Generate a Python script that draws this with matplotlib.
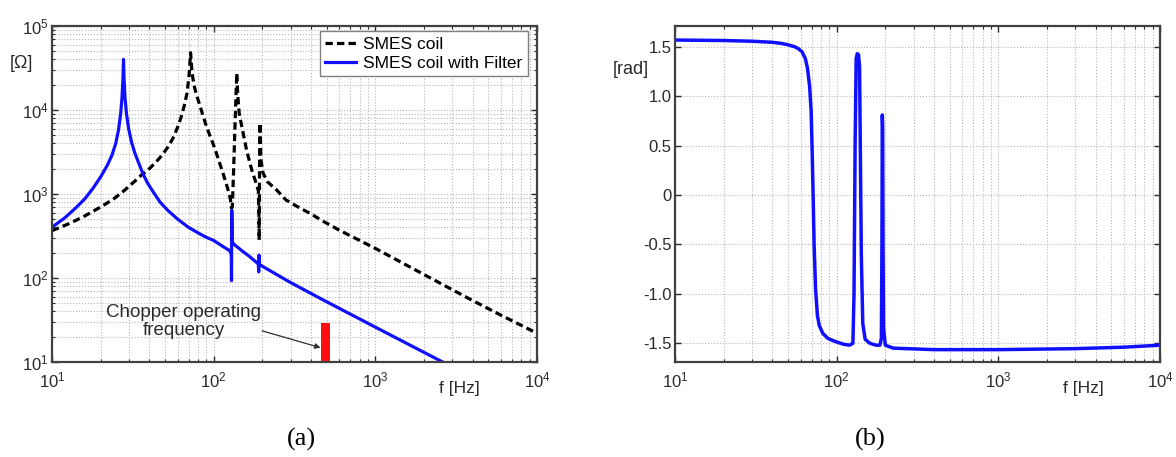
import matplotlib.pyplot as plt

# Impedancia da bobina SMES (curva tracejada)
f_coil = [10, 13, 16, 20, 24, 28, 32, 36, 40, 44, 48, 52, 56, 60, 63, 66, 68.5, 70.5, 72,
          73.5, 75.5, 78, 82, 86, 90, 95, 100, 105, 110, 115, 120, 124, 127, 129, 130.5,
          133, 136, 139, 141, 144, 151, 160, 172, 183, 189, 190.5, 191.3, 192.5, 193.5,
          196, 202, 215, 245, 280, 333, 400, 470, 600, 800, 1000, 2000, 3850, 6000, 10000]
z_coil = [366, 450, 550, 700, 870, 1100, 1380, 1700, 2000, 2400, 2900, 3600, 4600, 6300, 8300,
          11500, 16000, 26000, 48000,
          28000, 20000, 15500, 11500, 8500, 6500, 4900, 3800, 2900, 2200, 1700, 1300, 1050,
          860, 680, 700,
          2000, 8000, 27500, 15000, 9000, 5750, 3300, 1940, 1350, 1100, 600, 283, 3000, 7000,
          2600, 1780, 1400, 1120, 850, 700, 580, 480, 370, 280, 225, 110, 56, 36, 22]

# Impedancia da bobina SMES com filtro (curva azul)
f_filt = [10, 12, 14, 16, 18, 20, 22, 23.5, 24.8, 25.8, 26.6, 27.1, 27.5, 27.7, 27.9, 28.3,
          28.9, 29.8, 31, 32.5, 34.5, 36.5, 39, 42, 46.6, 52, 60, 70, 80, 90, 100, 115, 124,
          127, 128.5, 129, 129.5, 130.5, 136, 150, 167, 185, 189, 190, 191, 192, 204, 300,
          474, 1000, 2690, 10000]
z_filt = [402, 520, 680, 880, 1180, 1600, 2200, 2900, 4000, 5800, 9000, 14000, 24000, 40000,
          24000, 14000, 9000, 6000, 4200, 3100, 2300, 1750, 1350, 1080, 800, 640, 500, 400,
          345, 305, 280, 235, 215, 205, 190, 93, 640, 265, 245, 210, 180, 152, 148, 118, 187,
          145, 135, 88, 55, 26, 9.7, 2.6]

# Fase da impedancia com filtro [rad]
f_fase = [10, 20, 30, 40, 45, 50, 55, 58, 61, 64, 66, 68, 69.5, 70.5, 71.5, 72.5, 74, 76,
          78, 82, 88, 97, 110, 120, 126, 128, 130, 132, 134, 136.5, 138.5, 140, 142, 145,
          150, 160, 175, 185, 189, 190.5, 191.5, 192.5, 193.5, 195, 200, 224, 400, 1000,
          3000, 6000, 10000]
fase = [1.568, 1.563, 1.556, 1.545, 1.535, 1.52, 1.50, 1.48, 1.45, 1.38, 1.28, 1.1, 0.85,
        0.45, 0.0, -0.5, -0.95, -1.22, -1.32, -1.40, -1.45, -1.48, -1.51, -1.52, -1.50, -1.0,
        0.5, 1.38, 1.43, 1.42, 1.3, 0.5, -0.6, -1.3, -1.46, -1.5, -1.52, -1.52, -1.45, -0.5,
        0.81, 0.7, -0.5, -1.35, -1.52, -1.55, -1.565, -1.565, -1.555, -1.54, -1.52]

# Faixa da frequencia de operacao do chopper
chopper_f = [460, 525]
chopper_nivel = 29

fase_ticks = [-1.5, -1.0, -0.5, 0, 0.5, 1.0, 1.5]
fase_labels = ['-1.5', '-1.0', '-0.5', '0', '0.5', '1.0', '1.5']

plt.rcParams['font.family'] = ['Liberation Sans', 'DejaVu Sans']

azul = '#1010ff'
cinza_grade = '#b8b8b8'
cor_texto = '#2a2a2a'

fig = plt.figure(figsize=(11.76, 4.57), dpi=100)
ax1 = fig.add_axes([0.0442, 0.2079, 0.4124, 0.7352])
ax2 = fig.add_axes([0.574, 0.2079, 0.4124, 0.7352])

# Grafico (a) - modulo
ax1.loglog(f_coil, z_coil, color='black', ls='--', lw=2.3, dashes=(2.3, 1.3), label='SMES coil')
ax1.loglog(f_filt, z_filt, color=azul, lw=2.3, label='SMES coil with Filter')
ax1.fill_between(chopper_f, 10, chopper_nivel, color='#ff1010', lw=0)
ax1.set_xlim(10, 1e4)
ax1.set_ylim(10, 1e5)
ax1.grid(True, which='both', ls=':', color=cinza_grade, lw=0.8)
ax1.text(65, 30.5, 'Chopper operating\nfrequency', ha='center', va='center', fontsize=13.5,
         color=cor_texto, linespacing=1.05)
ax1.annotate('', xy=(476, 14.5), xytext=(192, 24),
             arrowprops=dict(arrowstyle='-|>', color='#303030', lw=0.9, mutation_scale=8))
leg = ax1.legend(loc='upper right', bbox_to_anchor=(0.981, 0.984), borderaxespad=0,
                 fancybox=False, edgecolor='#808080', framealpha=1, fontsize=12.5,
                 handlelength=1.8, handletextpad=0.4, borderpad=0.3, labelspacing=0.25)
leg.get_frame().set_linewidth(1.0)

# Grafico (b) - fase
ax2.semilogx(f_fase, fase, color=azul, lw=2.5)
ax2.set_xlim(10, 1e4)
ax2.set_ylim(-1.69, 1.71)
ax2.set_yticks(fase_ticks)
ax2.set_yticklabels(fase_labels)
ax2.grid(True, which='major', ls=':', color=cinza_grade, lw=0.8)
ax2.grid(True, which='minor', axis='x', ls=':', color=cinza_grade, lw=0.8)

for ax in (ax1, ax2):
    ax.tick_params(which='both', direction='in', top=True, right=True, labelsize=12,
                   labelcolor=cor_texto, color=cor_texto)
    ax.tick_params(which='major', length=4, width=1.0)
    ax.tick_params(which='minor', length=2.5, width=0.8)
    ax.tick_params(axis='x', which='both', pad=6)
    ax.tick_params(axis='y', which='both', pad=2.5)
    for s in ax.spines.values():
        s.set_color('#404040')
        s.set_linewidth(1.6)
    ax.set_axisbelow(True)

# Rotulos dos eixos no estilo do MATLAB
fig.text(21 / 1176, 1 - 64 / 457, '[\u03a9]', ha='center', va='center', fontsize=13, color=cor_texto)
fig.text(631 / 1176, 1 - 70 / 457, '[rad]', ha='center', va='center', fontsize=13, color=cor_texto)
fig.text(459 / 1176, 1 - 388 / 457, 'f [Hz]', ha='center', va='center', fontsize=12.5, color=cor_texto)
fig.text(1083 / 1176, 1 - 388 / 457, 'f [Hz]', ha='center', va='center', fontsize=12.5, color=cor_texto)

# Legendas (a) e (b)
fig.text(301 / 1176, 1 - 439 / 457, '(a)', ha='center', va='center', fontsize=19, family='Liberation Serif')
fig.text(870 / 1176, 1 - 439 / 457, '(b)', ha='center', va='center', fontsize=19, family='Liberation Serif')

fig.savefig('out.png', dpi=100)
